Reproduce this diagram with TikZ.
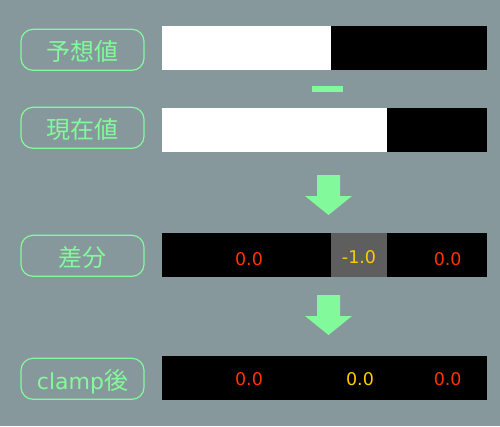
\documentclass[tikz,border=0pt]{standalone}
\usepackage{fontspec}
\setmainfont{DejaVu Sans}
\newfontfamily\cjk{Noto Sans CJK JP}
\newfontfamily\dvs{DejaVu Sans}
\definecolor{bg}{RGB}{135,152,157}
\definecolor{lgreen}{RGB}{130,250,155}
\definecolor{numred}{RGB}{255,51,0}
\definecolor{numyel}{RGB}{255,204,0}
\definecolor{cellgray}{RGB}{94,94,94}
\begin{document}
\begin{tikzpicture}[x=1pt,y=-1pt,
  lab/.style={draw=lgreen,line width=1.2pt,rounded corners=12pt,minimum width=123pt,minimum height=41pt,inner sep=0pt,text height=22.6pt,text depth=1.4pt,text=lgreen,font=\cjk\fontsize{24}{24}\selectfont},
  num/.style={inner sep=0pt,font=\dvs\fontsize{17.5}{17.5}\selectfont},
  bigarrow/.style={fill=lgreen,draw=none}]
\fill[bg] (0,0) rectangle (500,426);
\useasboundingbox (0,0) rectangle (500,426);
% labels
\node[lab] (l1) at (82.5,49.8) {予想値};
\node[lab] (l2) at (82.5,127.8) {現在値};
\node[lab] (l3) at (82.5,255.8) {差分};
\node[lab] (l4) at (82.5,378.8) {{\dvs\fontsize{22}{22}\selectfont clamp}後};
% row 1
\fill[white] (162,26) rectangle (331,70);
\fill[black] (331,26) rectangle (487,70);
% minus
\fill[lgreen] (312,86) rectangle (343,92);
% row 2
\fill[white] (162,108) rectangle (387,152);
\fill[black] (387,108) rectangle (487,152);
% arrow 1
\fill[bigarrow] (317,175) -- (340,175) -- (340,196) -- (352,196) -- (328.5,215) -- (305,196) -- (317,196) -- cycle;
% row 3
\fill[black] (162,233) rectangle (487,277);
\fill[cellgray] (331,233) rectangle (387,277);
\node[num,text=numred] (d1) at (249,258.7) {0.0};
\node[num,text=numyel] (d2) at (359,256.7) {-1.0};
\node[num,text=numred] (d3) at (447.7,258.7) {0.0};
% arrow 2
\fill[bigarrow] (317,295) -- (340,295) -- (340,316) -- (352,316) -- (328.5,335) -- (305,316) -- (317,316) -- cycle;
% row 4
\fill[black] (162,356) rectangle (487,400);
\node[num,text=numred] (c1) at (249,378.8) {0.0};
\node[num,text=numyel] (c2) at (360,378.8) {0.0};
\node[num,text=numred] (c3) at (447.7,378.8) {0.0};
\end{tikzpicture}
\end{document}
